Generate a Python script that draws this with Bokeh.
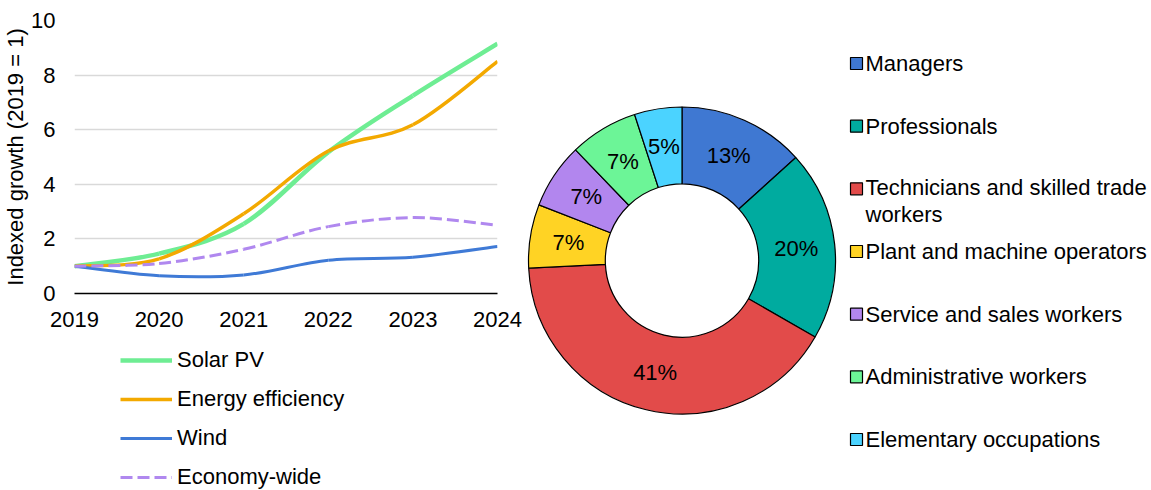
import math
from bokeh.plotting import figure
from bokeh.models import (ColumnDataSource, Range1d, FixedTicker, Legend, LegendItem)
from bokeh.layouts import row, column
from bokeh.embed import file_html
from bokeh.resources import INLINE

FONT = "Liberation Sans"
FS = "22px"

# ---------------- data ----------------
years = [2019, 2020, 2021, 2022, 2023, 2024]
solar_pv = [1.0, 1.46, 2.55, 5.18, 7.25, 9.15]
energy_efficiency = [1.0, 1.27, 2.92, 5.22, 6.18, 8.5]
wind = [1.0, 0.65, 0.68, 1.22, 1.33, 1.72]
economy_wide = [1.0, 1.1, 1.62, 2.45, 2.78, 2.5]
series_names = ["Solar PV", "Energy efficiency", "Wind", "Economy-wide"]

y_ticks = [0, 2, 4, 6, 8, 10]

occupations = ["Managers", "Professionals", "Technicians and skilled trade workers",
               "Plant and machine operators", "Service and sales workers",
               "Administrative workers", "Elementary occupations"]
occupation_share = [13.3, 20.0, 40.9, 6.7, 6.9, 7.2, 5.0]
# legend text as wrapped in the original
occupation_legend_text = ["Managers", "Professionals", "Technicians and skilled trade\nworkers",
                          "Plant and machine operators", "Service and sales workers",
                          "Administrative workers", "Elementary occupations"]

# ---------------- styles ----------------
line_styles = [
    dict(color="#6eed93", width=4.5, dash="solid"),
    dict(color="#f3a900", width=3.5, dash="solid"),
    dict(color="#3f7ad6", width=3.0, dash="solid"),
    dict(color="#b088ef", width=3.0, dash="12 5"),
]
slice_colors = ["#3f78d2", "#00ab9f", "#e24b4a", "#ffd324", "#b286ee", "#6cf597", "#4bd3ff"]


def smooth_segments(xs, ys):
    """Cubic Bezier segments through the data points (smoothed line rendering)."""
    n = len(xs)
    P = list(zip(xs, ys))
    d = dict(x0=[], y0=[], x1=[], y1=[], cx0=[], cy0=[], cx1=[], cy1=[])
    for i in range(n - 1):
        p0 = P[i - 1] if i > 0 else P[i]
        p1 = P[i]
        p2 = P[i + 1]
        p3 = P[i + 2] if i + 2 < n else P[i + 1]
        d["x0"].append(p1[0]); d["y0"].append(p1[1])
        d["x1"].append(p2[0]); d["y1"].append(p2[1])
        d["cx0"].append(p1[0] + (p2[0] - p0[0]) / 6.0)
        d["cy0"].append(p1[1] + (p2[1] - p0[1]) / 6.0)
        d["cx1"].append(p2[0] - (p3[0] - p1[0]) / 6.0)
        d["cy1"].append(p2[1] - (p3[1] - p1[1]) / 6.0)
    return ColumnDataSource(d)


all_series = [solar_pv, energy_efficiency, wind, economy_wide]

# ---------------- line chart ----------------
p = figure(width=522, height=335, x_range=Range1d(2019, 2024), y_range=Range1d(0, 10),
           output_backend="svg", toolbar_location=None,
           min_border_left=73, min_border_right=25, min_border_top=20, min_border_bottom=42)
p.outline_line_color = None
p.background_fill_color = "white"
p.xgrid.visible = False
p.ygrid.grid_line_color = "#d9d9d9"
p.ygrid.grid_line_width = 1.5
p.ygrid.ticker = FixedTicker(ticks=y_ticks[1:])

p.xaxis.ticker = FixedTicker(ticks=years)
p.xaxis.axis_line_color = "black"
p.xaxis.axis_line_width = 1.5
p.xaxis.major_tick_line_color = None
p.xaxis.minor_tick_line_color = None
p.xaxis.major_label_standoff = 12

p.yaxis.ticker = FixedTicker(ticks=y_ticks)
p.yaxis.axis_line_color = None
p.yaxis.major_tick_line_color = None
p.yaxis.minor_tick_line_color = None
p.yaxis.major_label_standoff = 13
p.yaxis.axis_label = "Indexed growth (2019 = 1)"
p.yaxis.axis_label_standoff = 0
p.yaxis.axis_label_text_font_style = "normal"

for ax in (p.xaxis, p.yaxis):
    ax.major_label_text_font = FONT
    ax.major_label_text_font_size = FS
    ax.major_label_text_color = "black"
    ax.axis_label_text_font = FONT
    ax.axis_label_text_font_size = FS
    ax.axis_label_text_color = "black"

for vals, st in zip(all_series, line_styles):
    src = smooth_segments(years, vals)
    p.bezier(x0="x0", y0="y0", x1="x1", y1="y1", cx0="cx0", cy0="cy0", cx1="cx1", cy1="cy1",
             source=src, line_color=st["color"], line_width=st["width"], line_dash=st["dash"])

# ---------------- legend of the line chart (separate panel below) ----------------
pl = figure(width=522, height=155, x_range=Range1d(0, 1), y_range=Range1d(0, 1),
            output_backend="svg", toolbar_location=None,
            x_axis_location=None, y_axis_location=None,
            min_border_left=73, min_border_top=0, min_border_right=25, min_border_bottom=0)
pl.outline_line_color = None
pl.grid.visible = False
items = []
for name, vals, st in zip(series_names, all_series, line_styles):
    # same series data; lies outside this panel's ranges, only its legend swatch shows
    r = pl.line(x=years, y=vals, line_color=st["color"], line_width=st["width"],
                line_dash=st["dash"])
    items.append(LegendItem(label=name, renderers=[r]))
leg = Legend(items=items, location=(46, 0), margin=0, padding=0,
             glyph_width=52, glyph_height=26, label_height=26, label_standoff=5, spacing=13,
             label_text_font=FONT, label_text_font_size=FS, label_text_color="black",
             border_line_color=None, background_fill_alpha=0)
pl.add_layout(leg)

# ---------------- donut ----------------
W, H = 629, 490
pd_ = figure(width=W, height=H, x_range=Range1d(0, W), y_range=Range1d(0, H),
             output_backend="svg", toolbar_location=None,
             x_axis_location=None, y_axis_location=None, min_border=0)
pd_.outline_line_color = None
pd_.grid.visible = False

cx, cy, r_out, r_in = 159.5, 230.0, 153.5, 76.7
total = sum(occupation_share)
starts, ends, mids = [], [], []
cum = 0.0
for v in occupation_share:
    a0 = math.pi / 2 - 2 * math.pi * cum / total
    cum += v
    a1 = math.pi / 2 - 2 * math.pi * cum / total
    starts.append(a0); ends.append(a1); mids.append((a0 + a1) / 2)

wsrc = ColumnDataSource(dict(start=starts, end=ends, color=slice_colors, name=occupations))
pd_.annular_wedge(x=cx, y=cy, inner_radius=r_in, outer_radius=r_out,
                  start_angle="start", end_angle="end", direction="clock",
                  fill_color="color", line_color="black", line_width=1.2, source=wsrc)

r_lab = 115
lsrc = ColumnDataSource(dict(
    x=[cx + r_lab * math.cos(m) for m in mids],
    y=[cy + r_lab * math.sin(m) for m in mids],
    t=[f"{round(v)}%" for v in occupation_share]))
pd_.text(x="x", y="y", text="t", source=lsrc, text_align="center", text_baseline="middle",
         text_font=dict(value=FONT), text_font_size=dict(value=FS), text_color="black")

# legend for donut
leg_top = 490 - 63
pitch = 62.67
line_px = 24
mk_x, tx_x = 334, 343
ys_mk = [leg_top - i * pitch for i in range(len(occupations))]
ys_tx = [y - (t.count("\n")) * line_px / 2 for y, t in zip(ys_mk, occupation_legend_text)]
msrc = ColumnDataSource(dict(x=[mk_x] * len(occupations), y=ys_mk, color=slice_colors))
pd_.scatter(x="x", y="y", source=msrc, marker="square", size=12,
            fill_color="color", line_color="black", line_width=1.2)
tsrc = ColumnDataSource(dict(x=[tx_x] * len(occupations), y=ys_tx, t=occupation_legend_text))
pd_.text(x="x", y="y", text="t", source=tsrc, text_align="left", text_baseline="middle",
         text_font=dict(value=FONT), text_font_size=dict(value=FS), text_color="black",
         text_line_height=1.1)

layout = row(column(p, pl), pd_)
open("out.html", "w").write(file_html(layout, INLINE))
